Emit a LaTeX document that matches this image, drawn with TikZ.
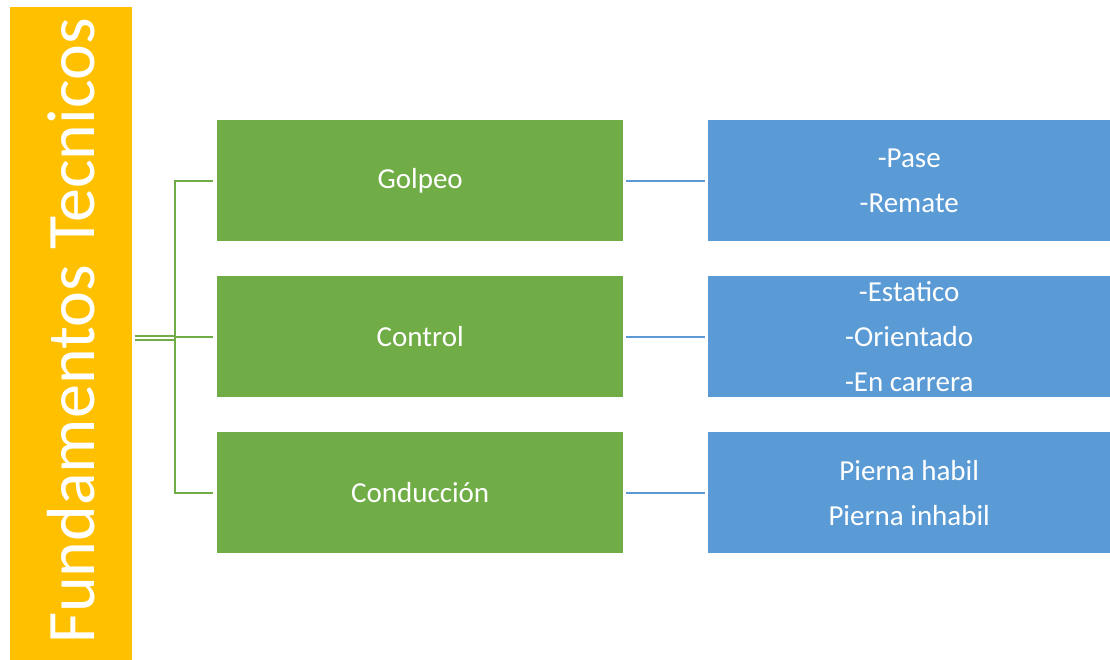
\documentclass[tikz,border=0pt]{standalone}
\usepackage{fontspec}
\setmainfont{Carlito}
\definecolor{ygold}{HTML}{FFC000}
\definecolor{grn}{HTML}{70AD47}
\definecolor{blu}{HTML}{5B9BD5}
\begin{document}
\begin{tikzpicture}[x=1pt,y=-1pt,
  gbox/.style={fill=grn, draw=none, minimum width=406pt, minimum height=121pt, inner sep=0pt, text=white, font=\fontsize{29}{45}\selectfont, align=center},
  bbox/.style={fill=blu, draw=none, minimum width=402pt, minimum height=121pt, inner sep=0pt, text=white, font=\fontsize{29}{45}\selectfont, align=center},
  gline/.style={draw=grn, line width=2.2pt},
  bline/.style={draw=blu, line width=2.2pt}]
\useasboundingbox (0,0) rectangle (1110,660);
\node[fill=ygold, minimum width=122pt, minimum height=653pt, inner sep=0pt, anchor=north west] (title) at (10,7) {};
\node[rotate=90, text=white, font=\fontsize{68}{70}\selectfont] (tt) at (71,331) {Fundamentos Tecnicos};
\node[gbox, anchor=north west] (g1) at (217,120) {Golpeo};
\node[gbox, anchor=north west] (g2) at (217,276) {Control};
\node[gbox, anchor=north west] (g3) at (217,432) {Conducción};
\node[bbox, anchor=north west] (b1) at (708,120) {-Pase\\-Remate};
\node[bbox, anchor=north west] (b2) at (708,276) {-Estatico\\-Orientado\\-En carrera};
\node[bbox, anchor=north west] (b3) at (708,432) {Pierna habil\\Pierna inhabil};
\coordinate (s1) at (135,336);
\coordinate (s2) at (135,340);
\coordinate (j) at (175,338);
\draw[draw=grn, line width=1.5pt] (s1) -- (j |- s1);
\draw[draw=grn, line width=1.5pt] (s2) -- (j |- s2);
\draw[gline] ([xshift=-4pt]g1.west) -| (j) |- ([xshift=-4pt]g3.west);
\draw[gline] (j |- g2.west) -- ([xshift=-4pt]g2.west);
\draw[bline] ([xshift=3pt]g1.east) -- ([xshift=-3pt]b1.west);
\draw[bline] ([xshift=3pt]g2.east) -- ([xshift=-3pt]b2.west);
\draw[bline] ([xshift=3pt]g3.east) -- ([xshift=-3pt]b3.west);
\end{tikzpicture}
\end{document}
